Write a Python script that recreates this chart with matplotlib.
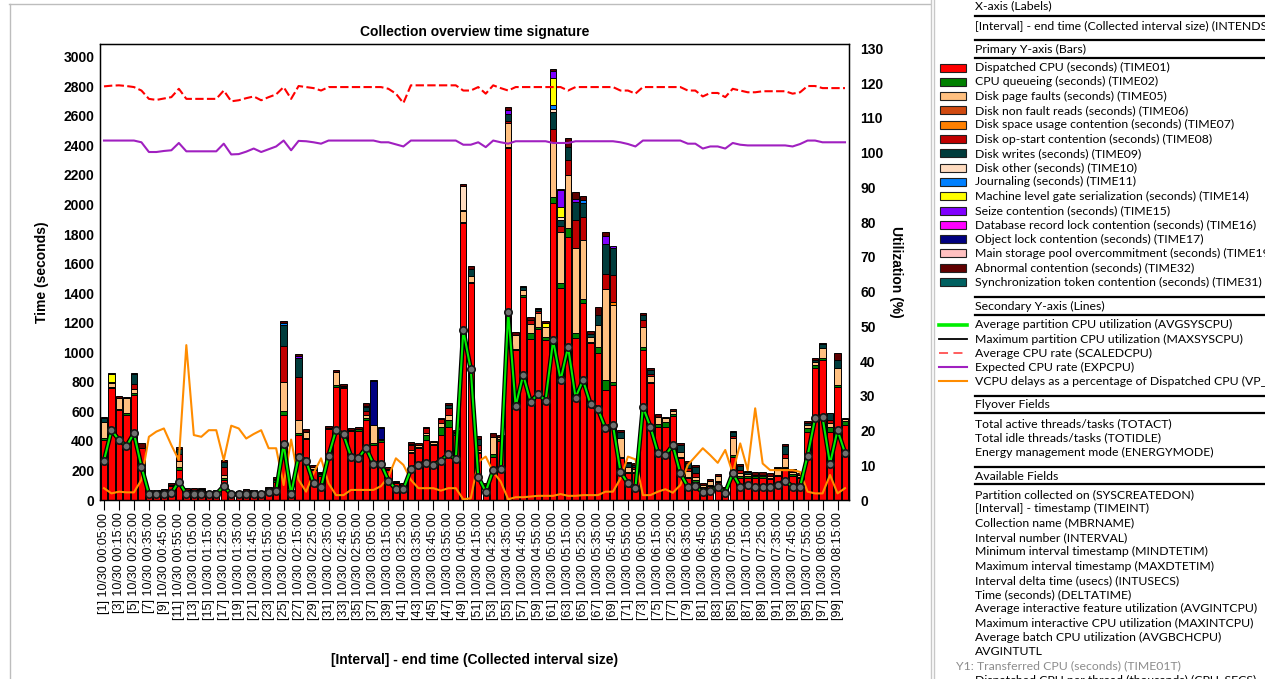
import matplotlib
matplotlib.use("Agg")
import matplotlib.pyplot as plt
import matplotlib.patheffects as pe
from matplotlib.lines import Line2D
from matplotlib.patches import Rectangle
import numpy as np

# ---------------------------------------------------------------- data
intervals = list(range(1, 101))
interval_labels = [f"[{i}] 10/30 {(i * 5) // 60:02d}:{(i * 5) % 60:02d}:00" for i in intervals]

# Primary Y-axis (stacked bars, seconds)
time01_dispatched = [406, 756, 609, 575, 711, 350, 55, 55, 62, 95,
                     203, 65, 65, 68, 50, 55, 135, 45, 50, 58,
                     55, 45, 72, 125, 575, 55, 440, 410, 203, 165,
                     478, 767, 756, 465, 470, 541, 372, 395, 205, 115,
                     98, 316, 350, 406, 370, 440, 496, 440, 1877, 1466,
                     316, 95, 293, 400, 2380, 1015, 1376, 1090, 1160, 1083,
                     2008, 1433, 1782, 1099, 1331, 1060, 993, 744, 778, 282,
                     180, 180, 1015, 790, 496, 496, 569, 282, 147, 124,
                     80, 95, 120, 70, 293, 150, 150, 150, 150, 140,
                     160, 214, 165, 150, 462, 891, 948, 462, 767, 508]
time02_cpu_queue = [15, 10, 10, 12, 12, 5, 5, 5, 5, 8,
                    22, 6, 6, 6, 5, 5, 15, 4, 5, 6,
                    5, 4, 6, 10, 29, 5, 12, 8, 10, 8,
                    8, 10, 8, 8, 12, 12, 11, 10, 8, 6,
                    5, 12, 12, 34, 12, 56, 45, 12, 5, 10,
                    10, 6, 20, 12, 10, 10, 8, 38, 10, 22,
                    45, 34, 56, 29, 27, 12, 45, 68, 23, 12,
                    10, 10, 23, 10, 18, 34, 15, 10, 10, 10,
                    6, 8, 10, 6, 11, 10, 10, 10, 10, 10,
                    10, 8, 10, 8, 23, 22, 12, 34, 10, 25]
time05_page_faults = [108, 25, 72, 100, 30, 0, 0, 0, 0, 0,
                      40, 0, 0, 0, 0, 0, 20, 0, 0, 0,
                      0, 0, 0, 10, 196, 0, 90, 45, 12, 8,
                      0, 90, 8, 0, 0, 20, 124, 10, 0, 0,
                      0, 12, 10, 12, 8, 25, 34, 10, 74, 40,
                      15, 0, 113, 15, 158, 90, 40, 63, 95, 68,
                      370, 350, 361, 575, 402, 34, 147, 614, 519, 124,
                      30, 20, 135, 40, 45, 22, 18, 34, 40, 20,
                      15, 25, 30, 0, 113, 20, 15, 12, 12, 12,
                      35, 61, 15, 10, 25, 20, 68, 27, 114, 12]
time06_non_fault = {}
time07_space_usage = {69: 23}
time08_op_start = [0, 0, 0, 0, 30, 0, 0, 0, 0, 0,
                   45, 0, 0, 0, 0, 0, 50, 0, 0, 0,
                   0, 0, 0, 0, 241, 0, 289, 0, 0, 0,
                   0, 0, 0, 0, 0, 30, 0, 0, 0, 0,
                   0, 30, 0, 34, 0, 25, 45, 0, 0, 0,
                   30, 0, 0, 0, 20, 0, 0, 30, 15, 0,
                   90, 34, 101, 192, 158, 0, 0, 101, 180, 0,
                   0, 15, 45, 15, 0, 0, 0, 0, 20, 30,
                   0, 0, 0, 0, 15, 25, 0, 0, 0, 0,
                   0, 28, 0, 0, 0, 0, 0, 18, 0, 0]
time09_disk_writes = [25, 0, 0, 0, 68, 0, 0, 0, 0, 0,
                      38, 0, 0, 0, 0, 0, 40, 0, 0, 0,
                      0, 0, 0, 0, 142, 0, 129, 0, 0, 0,
                      0, 0, 0, 0, 0, 25, 0, 0, 0, 0,
                      0, 10, 0, 0, 0, 0, 22, 0, 8, 45,
                      45, 0, 0, 0, 45, 0, 16, 0, 12, 0,
                      113, 45, 90, 124, 90, 20, 68, 203, 180, 45,
                      28, 15, 35, 26, 0, 0, 0, 45, 35, 40,
                      0, 0, 0, 0, 25, 28, 12, 0, 0, 0,
                      10, 56, 0, 0, 13, 14, 25, 46, 56, 0]
time10_disk_other = {2: 10, 49: 158, 61: 18, 62: 22}
time11_journaling = {25: 12, 36: 10, 61: 27, 65: 22}
time14_gate_serial = {2: 50, 60: 22, 61: 187, 62: 68}
time15_seize = {27: 12, 55: 25, 61: 45, 62: 113, 64: 18, 68: 56, 69: 16}
time16_record_lock = {}
time17_object_lock = {37: 295, 38: 71}
time19_pool_overcommit = {}
time32_abnormal = [10, 11, 15, 13, 11, 28, 8, 8, 8, 10,
                   8, 8, 8, 9, 8, 8, 11, 7, 8, 8,
                   8, 7, 8, 8, 16, 8, 14, 15, 12, 11,
                   15, 13, 11, 12, 14, 16, 10, 10, 13, 10,
                   10, 10, 12, 10, 12, 11, 12, 12, 17, 23,
                   17, 12, 25, 13, 20, 24, 8, 20, 10, 16,
                   12, 4, 62, 50, 27, 18, 55, 26, 0, 11,
                   11, 8, 10, 10, 23, 12, 12, 13, 14, 13,
                   12, 12, 14, 14, 12, 11, 12, 20, 20, 18,
                   11, 12, 18, 12, 12, 12, 12, 0, 46, 12]
time31_sync_token = {}

# Secondary Y-axis (lines, %)
avgsyscpu = [11.3, 20.1, 17.3, 15.5, 19.2, 9.6, 1.7, 1.7, 1.8, 1.9,
             5.3, 1.7, 1.7, 1.8, 1.6, 1.7, 4.0, 1.6, 1.7, 1.8,
             1.7, 1.6, 2.4, 2.7, 16.1, 1.7, 12.5, 11.3, 4.8, 3.6,
             12.7, 20.1, 18.9, 12.5, 12.0, 15.1, 10.4, 10.5, 5.6, 3.1,
             3.1, 8.8, 10.1, 10.7, 10.1, 11.3, 13.2, 11.7, 48.9, 37.6,
             6.7, 2.4, 8.6, 8.8, 54.2, 27.0, 36.0, 28.3, 30.5, 28.6,
             46.0, 34.5, 44.1, 29.5, 34.5, 27.6, 26.1, 20.6, 21.6, 8.1,
             4.8, 3.4, 26.8, 21.1, 13.6, 12.9, 15.8, 7.7, 3.8, 4.0,
             2.2, 2.7, 3.8, 2.1, 7.7, 3.8, 4.3, 3.8, 3.6, 3.6,
             4.3, 5.6, 3.8, 3.8, 12.7, 23.5, 23.8, 10.4, 20.1, 13.6]
maxsyscpu = [11.8, 20.7, 17.8, 16.0, 19.8, 10.1, 2.1, 2.1, 2.2, 2.3,
             5.8, 2.1, 2.1, 2.2, 2.0, 2.1, 4.5, 2.0, 2.1, 2.2,
             2.1, 2.0, 2.8, 3.1, 16.7, 2.1, 13.0, 11.8, 5.2, 4.0,
             13.2, 20.6, 19.4, 13.0, 12.5, 15.6, 10.9, 11.0, 6.0, 3.5,
             3.5, 9.3, 10.6, 11.2, 10.6, 11.8, 13.7, 12.2, 49.6, 38.2,
             7.2, 2.8, 9.1, 9.3, 54.9, 27.6, 36.6, 28.9, 31.1, 29.2,
             46.7, 35.1, 44.7, 30.1, 35.1, 28.2, 26.7, 21.2, 22.2, 8.6,
             5.2, 3.8, 27.4, 21.6, 14.1, 13.4, 16.3, 8.2, 4.2, 4.4,
             2.6, 3.1, 4.2, 2.5, 8.2, 4.2, 4.7, 4.2, 4.0, 4.0,
             4.7, 6.0, 4.2, 4.2, 13.2, 24.1, 24.4, 10.9, 20.6, 14.1]
scaledcpu = [119.1, 119.3, 119.4, 119.2, 118.9, 117.9, 115.5, 115.2, 115.6, 116.0,
             118.4, 115.5, 115.5, 115.5, 115.5, 115.5, 117.9, 114.8, 115.1, 115.7,
             116.2, 115.1, 116.0, 116.8, 118.9, 115.5, 119.2, 118.9, 118.6, 117.9,
             118.9, 118.9, 118.9, 118.9, 118.9, 118.9, 118.9, 118.9, 118.4, 117.0,
             114.3, 119.4, 119.4, 119.4, 119.4, 119.4, 119.4, 119.4, 117.9, 117.9,
             118.9, 117.0, 119.4, 118.6, 117.9, 118.9, 118.9, 118.9, 118.9, 118.9,
             118.9, 118.9, 117.9, 118.9, 118.9, 118.9, 118.9, 118.9, 118.9, 117.9,
             117.9, 117.0, 118.9, 118.9, 118.9, 118.9, 118.9, 118.9, 117.9, 117.9,
             116.2, 117.2, 117.2, 116.0, 118.4, 117.9, 117.4, 117.4, 117.7, 117.7,
             117.7, 117.7, 117.0, 117.4, 119.2, 119.2, 118.6, 118.6, 118.6, 118.6]
expcpu = [103.5, 103.5, 103.5, 103.5, 103.5, 103.0, 100.2, 100.2, 100.5, 100.7,
          102.8, 100.4, 100.4, 100.4, 100.4, 100.4, 102.6, 99.5, 99.6, 100.3,
          101.2, 100.2, 101.0, 101.8, 103.5, 100.7, 103.4, 103.3, 103.0, 102.6,
          103.5, 103.5, 103.5, 103.5, 103.5, 103.5, 103.5, 103.0, 103.0, 102.4,
          101.8, 103.5, 103.5, 103.5, 103.5, 103.5, 103.5, 103.5, 102.3, 102.3,
          103.0, 101.6, 103.5, 103.0, 102.6, 103.3, 103.3, 103.3, 103.3, 103.3,
          102.8, 102.8, 102.8, 103.3, 103.3, 103.3, 103.3, 103.3, 103.3, 103.0,
          102.5, 101.8, 103.5, 103.5, 103.5, 103.5, 103.5, 103.5, 102.6, 102.6,
          101.2, 101.8, 101.8, 101.2, 102.8, 102.3, 102.1, 102.1, 102.1, 102.1,
          102.1, 102.1, 101.8, 102.5, 103.5, 103.5, 103.0, 103.0, 103.0, 103.0]
vp_pct = [3.4, 1.9, 2.4, 2.2, 2.2, 5.8, 18.2, 19.7, 20.6, 15.8,
          11.5, 44.6, 18.7, 18.2, 20.1, 20.1, 11.5, 21.4, 20.6, 17.7,
          19.0, 20.1, 14.9, 14.9, 4.3, 17.4, 5.8, 2.4, 7.7, 12.0,
          4.8, 1.4, 1.4, 2.9, 2.9, 2.9, 2.9, 4.0, 6.7, 12.0,
          10.1, 5.8, 3.4, 3.4, 3.4, 2.7, 3.4, 3.4, 0.2, 0.5,
          11.0, 12.5, 8.1, 5.3, 0.2, 0.8, 0.8, 1.0, 1.2, 1.2,
          1.2, 1.7, 1.2, 1.2, 1.4, 1.4, 1.4, 2.4, 2.4, 6.2,
          12.5, 11.7, 1.4, 1.4, 2.4, 3.1, 2.1, 4.3, 10.1, 12.5,
          14.9, 12.9, 10.7, 14.4, 7.7, 16.3, 8.6, 26.4, 10.5, 8.6,
          8.6, 8.6, 8.6, 8.1, 2.4, 1.9, 1.9, 7.2, 1.9, 3.4]


def as_series(values):
    """Expand a sparse {interval: seconds} mapping into a full series."""
    if isinstance(values, dict):
        return np.array([values.get(i, 0) for i in intervals], dtype=float)
    return np.asarray(values, dtype=float)


bar_series = [
    ("Dispatched CPU (seconds) (TIME01)", time01_dispatched, "#FF0000"),
    ("CPU queueing (seconds) (TIME02)", time02_cpu_queue, "#008000"),
    ("Disk page faults (seconds) (TIME05)", time05_page_faults, "#FFC080"),
    ("Disk non fault reads (seconds) (TIME06)", time06_non_fault, "#D04A10"),
    ("Disk space usage contention (seconds) (TIME07)", time07_space_usage, "#FF8000"),
    ("Disk op-start contention (seconds) (TIME08)", time08_op_start, "#C00000"),
    ("Disk writes (seconds) (TIME09)", time09_disk_writes, "#003C3C"),
    ("Disk other (seconds) (TIME10)", time10_disk_other, "#FFDCC0"),
    ("Journaling (seconds) (TIME11)", time11_journaling, "#0080FF"),
    ("Machine level gate serialization (seconds) (TIME14)", time14_gate_serial, "#FFFF00"),
    ("Seize contention (seconds) (TIME15)", time15_seize, "#8000FF"),
    ("Database record lock contention (seconds) (TIME16)", time16_record_lock, "#FF00FF"),
    ("Object lock contention (seconds) (TIME17)", time17_object_lock, "#000080"),
    ("Main storage pool overcommitment (seconds) (TIME19)", time19_pool_overcommit, "#FFC0C0"),
    ("Abnormal contention (seconds) (TIME32)", time32_abnormal, "#600000"),
    ("Synchronization token contention (seconds) (TIME31)", time31_sync_token, "#006060"),
]

line_series = [
    ("Average partition CPU utilization (AVGSYSCPU)", "#00EE00"),
    ("Maximum partition CPU utilization (MAXSYSCPU)", "#000000"),
    ("Average CPU rate (SCALEDCPU)", "#FF5050"),
    ("Expected CPU rate (EXPCPU)", "#A020C0"),
    ("VCPU delays as a percentage of Dispatched CPU (VP_PCT)", "#FF8C00"),
]

# ---------------------------------------------------------------- figure
W, H = 1265, 679
fig = plt.figure(figsize=(W / 100, H / 100), dpi=100)
fig.patch.set_facecolor("white")


def fx(px):
    return px / W


def fy(py):
    return 1 - py / H


AX_FONT = "Liberation Sans"
ax = fig.add_axes([fx(100), fy(500), fx(849) - fx(100), fy(44) - fy(500)])
x = np.array(intervals, dtype=float)

bottom = np.zeros(len(intervals))
for name, vals, color in bar_series:
    v = as_series(vals)
    m = v > 0
    if m.any():
        ax.bar(x[m], v[m], width=0.86, bottom=bottom[m], color=color,
               edgecolor="black", linewidth=0.7, zorder=2)
    bottom += v

ax.set_xlim(0.466, 100.534)
ax.set_ylim(0, 3086)
ax.set_yticks(range(0, 3001, 200))
ax.set_xticks(x[::2])
ax.set_xticklabels(interval_labels[::2], rotation=90, fontsize=9, family=AX_FONT)
ax.tick_params(axis="x", length=7, width=0.8, pad=2)
ax.tick_params(axis="y", length=0, pad=4)
for lab in ax.get_yticklabels():
    lab.set_fontweight("bold")
    lab.set_fontsize(10)
    lab.set_family(AX_FONT)
for sp in ax.spines.values():
    sp.set_linewidth(1.0)

ax.set_title("Collection overview time signature", fontsize=10, fontweight="bold",
             family=AX_FONT, pad=6)
ax.set_xlabel("[Interval] - end time (Collected interval size)", fontsize=10,
              fontweight="bold", family=AX_FONT)
ax.xaxis.set_label_coords(0.5, (653 - 500) / -456.0, transform=ax.transAxes)
ax.set_ylabel("Time (seconds)", fontsize=10, fontweight="bold", family=AX_FONT)
ax.yaxis.set_label_coords((49 - 100) / 749.0, 0.5, transform=ax.transAxes)

ax2 = ax.twinx()
ax2.set_ylim(0, 131.3)
ax2.set_yticks(range(0, 131, 10))
ax2.tick_params(axis="y", length=0, pad=8)
for lab in ax2.get_yticklabels():
    lab.set_fontweight("bold")
    lab.set_fontsize(10)
    lab.set_family(AX_FONT)
ax2.set_ylabel("Utilization (%)", fontsize=10, fontweight="bold", family=AX_FONT,
               rotation=-90)
ax2.yaxis.set_label_coords((903 - 100) / 749.0, 0.5, transform=ax2.transAxes)

ax2.plot(x, vp_pct, color="#FF8C00", lw=1.5, zorder=3)
ax2.plot(x, maxsyscpu, color="black", lw=1.0, zorder=4)
ax2.plot(x, avgsyscpu, color="#00EE00", lw=1.5, zorder=5,
         path_effects=[pe.Stroke(linewidth=3.3, foreground="black"), pe.Normal()])
ax2.plot(x, avgsyscpu, linestyle="none", marker="o", ms=5.3, mfc="#707070",
         mec="#151515", mew=1.2, zorder=6)
ax2.plot(x, scaledcpu, color="#FF0000", lw=1.5, dashes=(4, 1.6), zorder=5)
ax2.plot(x, expcpu, color="#A020C0", lw=1.5, zorder=5)

# ---------------------------------------------------------------- frame lines
def hline(y, x0, x1, color="black", lw=1.0):
    fig.add_artist(Line2D([fx(x0), fx(x1)], [fy(y), fy(y)], color=color, lw=lw,
                          transform=fig.transFigure))


def vline(xp, y0, y1, color="black", lw=1.0):
    fig.add_artist(Line2D([fx(xp), fx(xp)], [fy(y0), fy(y1)], color=color, lw=lw,
                          transform=fig.transFigure))


hline(4, 9, 930, color="#BDBDBD", lw=1.0)
vline(9.5, 4, 679, color="#BDBDBD", lw=1.0)
vline(930.5, 0, 679, color="#C8C8C8", lw=1.0)
vline(933.5, 0, 679, color="#C8C8C8", lw=1.0)

# ---------------------------------------------------------------- field panel
PANEL_FONT = "Lato"
PFS = 8.85
TX = 975


def ptext(y, s, color="black", xp=TX):
    fig.text(fx(xp), fy(y), s, fontsize=PFS, family=PANEL_FONT, color=color,
             ha="left", va="center")


ptext(6, "X-axis (Labels)")
hline(15.5, TX, W, lw=1.6)
ptext(26, "[Interval] - end time (Collected interval size) (INTENDSTR)")
hline(40, TX, W, lw=1.6)
ptext(49, "Primary Y-axis (Bars)")
hline(57.5, TX, W, lw=1.6)

y0 = 67.5
for k, (name, _, color) in enumerate(bar_series):
    yy = y0 + k * 14.3
    fig.add_artist(Rectangle((fx(939.5), fy(yy + 4)), fx(26), fy(yy - 4) - fy(yy + 4),
                             facecolor=color, edgecolor="#202020", lw=0.8,
                             transform=fig.transFigure))
    ptext(yy, name)

hline(297, TX, W, lw=1.6)
ptext(306, "Secondary Y-axis (Lines)")
hline(315, TX, W, lw=1.6)

ly = [324.5, 339, 353, 367, 381]
sty = [dict(lw=2.6), dict(lw=1.3), dict(lw=1.3, dashes=(5, 3)), dict(lw=1.5), dict(lw=1.5)]
for (name, color), yy, st in zip(line_series, ly, sty):
    fig.add_artist(Line2D([fx(939), fx(967)], [fy(yy), fy(yy)], color=color,
                          transform=fig.transFigure, **st))
    ptext(yy, name)

hline(396, TX, W, lw=1.6)
ptext(405, "Flyover Fields")
hline(413.5, TX, W, lw=1.6)
for k, s in enumerate(["Total active threads/tasks (TOTACT)",
                       "Total idle threads/tasks (TOTIDLE)",
                       "Energy management mode (ENERGYMODE)"]):
    ptext(423.5 + k * 14.3, s)

hline(467, TX, W, lw=1.6)
ptext(476, "Available Fields")
hline(483.5, TX, W, lw=1.6)
available = ["Partition collected on (SYSCREATEDON)",
             "[Interval] - timestamp (TIMEINT)",
             "Collection name (MBRNAME)",
             "Interval number (INTERVAL)",
             "Minimum interval timestamp (MINDTETIM)",
             "Maximum interval timestamp (MAXDTETIM)",
             "Interval delta time (usecs) (INTUSECS)",
             "Time (seconds) (DELTATIME)",
             "Average interactive feature utilization (AVGINTCPU)",
             "Maximum interactive CPU utilization (MAXINTCPU)",
             "Average batch CPU utilization (AVGBCHCPU)",
             "AVGINTUTL"]
for k, s in enumerate(available):
    ptext(494.5 + k * 14.3, s)
ptext(666, "Y1: Transferred CPU (seconds) (TIME01T)", color="#8C8C8C", xp=956)
ptext(680, "Dispatched CPU per thread (thousands) (CPU_SECS)", xp=975)

fig.savefig("out.png", dpi=100, facecolor="white")
